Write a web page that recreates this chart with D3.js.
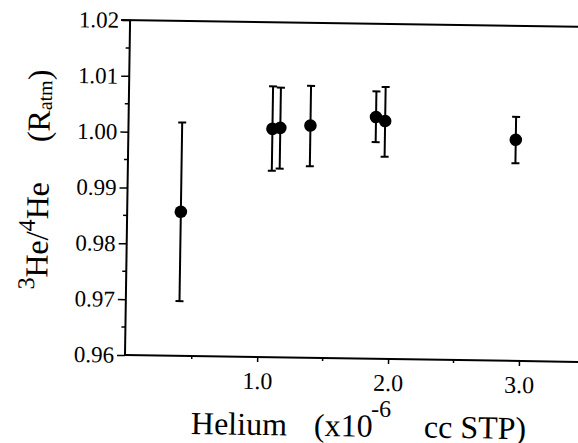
<!DOCTYPE html>
<html>
<head>
<meta charset="utf-8">
<script src="https://cdn.jsdelivr.net/npm/d3@7"></script>
</head>
<body style="margin:0;background:#fff">
<script>
// ---- data ----
const helium   = [0.40, 1.09, 1.15, 1.38, 1.88, 1.95, 2.95];          // x10^-6 cc STP
const ratio    = [0.9858, 1.0009, 1.0011, 1.0016, 1.0033, 1.0026, 0.9996];
const ratioHi  = [1.0018, 1.0085, 1.0083, 1.0087, 1.0079, 1.0087, 1.0037];
const ratioLo  = [0.9698, 0.9934, 0.9938, 0.9943, 0.9988, 0.9962, 0.9954];
const yMajorTicks = [0.96, 0.97, 0.98, 0.99, 1.00, 1.01, 1.02];
const yMinorTicks = [0.965, 0.975, 0.985, 0.995, 1.005, 1.015];
const xMajorTicks = [1.0, 2.0, 3.0];
const xMinorTicks = [0.5, 1.5, 2.5, 3.5];

const W = 578, H = 443;
const FONT = "'Liberation Serif'";
const svg = d3.select("body").append("svg").attr("width", W).attr("height", H)
  .style("display", "block");

// the scanned figure is slightly rotated; draw in a rotated frame anchored at the bottom-left corner
const g = svg.append("g").attr("transform", "translate(125,355) rotate(0.87)");

const plotH = 335;
const x = d3.scaleLinear().domain([-0.01, 3.5]).range([0, 3.51 * 130.9]);
const y = d3.scaleLinear().domain([0.96, 1.02]).range([0, -plotH]);

function serif(sel, size) {
  return sel.attr("font-family", "Liberation Serif").style("font-family", FONT)
    .style("font-size", size + "px").style("font-weight", "normal").attr("fill", "#000");
}

// frame: left axis, bottom axis, top border
g.append("line").attr("x1", 0).attr("x2", 0).attr("y1", y(0.96)).attr("y2", y(1.02))
  .attr("stroke", "#000").attr("stroke-width", 2);
g.append("line").attr("x1", 0).attr("x2", x(3.5)).attr("y1", 0).attr("y2", 0)
  .attr("stroke", "#000").attr("stroke-width", 2);
g.append("line").attr("x1", -9).attr("x2", x(3.5)).attr("y1", y(1.02)).attr("y2", y(1.02))
  .attr("stroke", "#000").attr("stroke-width", 2);

// y axis ticks
const yAxis = d3.axisLeft(y).tickValues(yMajorTicks).tickSize(8).tickPadding(3)
  .tickFormat(d3.format(".2f"));
const ya = g.append("g").call(yAxis).attr("font-family", "Liberation Serif");
ya.select(".domain").remove();
ya.selectAll(".tick line").attr("stroke", "#000").attr("stroke-width", 1.5);
serif(ya.selectAll(".tick text"), 23);
g.append("g").selectAll("line").data(yMinorTicks).join("line")
  .attr("x1", -4).attr("x2", 0).attr("y1", d => y(d)).attr("y2", d => y(d))
  .attr("stroke", "#000").attr("stroke-width", 1.5);

// x axis ticks
const xAxis = d3.axisBottom(x).tickValues(xMajorTicks).tickSize(5).tickPadding(10)
  .tickFormat(d3.format(".1f"));
const xa = g.append("g").call(xAxis).attr("font-family", "Liberation Serif");
xa.select(".domain").remove();
xa.selectAll(".tick line").attr("stroke", "#000").attr("stroke-width", 1.5);
serif(xa.selectAll(".tick text"), 24);
g.append("g").selectAll("line").data(xMinorTicks).join("line")
  .attr("x1", d => x(d)).attr("x2", d => x(d)).attr("y1", 0).attr("y2", 3)
  .attr("stroke", "#000").attr("stroke-width", 1.5);

// error bars
const pts = helium.map((h, i) => ({ h, r: ratio[i], hi: ratioHi[i], lo: ratioLo[i] }));
const eb = g.append("g");
eb.selectAll("line.v").data(pts).join("line").attr("class", "v")
  .attr("x1", d => x(d.h)).attr("x2", d => x(d.h)).attr("y1", d => y(d.lo)).attr("y2", d => y(d.hi))
  .attr("stroke", "#000").attr("stroke-width", 2);
eb.selectAll("line.t").data(pts).join("line").attr("class", "t")
  .attr("x1", d => x(d.h) - 4).attr("x2", d => x(d.h) + 4).attr("y1", d => y(d.hi)).attr("y2", d => y(d.hi))
  .attr("stroke", "#000").attr("stroke-width", 2);
eb.selectAll("line.b").data(pts).join("line").attr("class", "b")
  .attr("x1", d => x(d.h) - 4).attr("x2", d => x(d.h) + 4).attr("y1", d => y(d.lo)).attr("y2", d => y(d.lo))
  .attr("stroke", "#000").attr("stroke-width", 2);

// markers
g.append("g").selectAll("circle").data(pts).join("circle")
  .attr("cx", d => x(d.h)).attr("cy", d => y(d.r)).attr("r", 6.3).attr("fill", "#000");

// x axis title
serif(g.append("text").attr("x", 67).attr("y", 78), 32).text("Helium");
serif(g.append("text").attr("x", 190).attr("y", 78), 32).text("(x10");
serif(g.append("text").attr("x", 247).attr("y", 58), 24).text("-6");
serif(g.append("text").attr("x", 300).attr("y", 78), 32).text("cc STP)");

// y axis title
const yt = serif(g.append("text").attr("transform", "translate(-79,-64) rotate(-90)"), 32);
yt.append("tspan").style("font-size", "24px").attr("dy", -13).text("3");
yt.append("tspan").attr("dy", 13).text("He/");
yt.append("tspan").style("font-size", "24px").attr("dy", -13).text("4");
yt.append("tspan").attr("dy", 13).text("He");
yt.append("tspan").attr("dx", 40).text("(R");
yt.append("tspan").style("font-size", "20px").attr("dy", 2).text("atm");
yt.append("tspan").attr("dy", -2).text(")");
</script>
</body>
</html>
